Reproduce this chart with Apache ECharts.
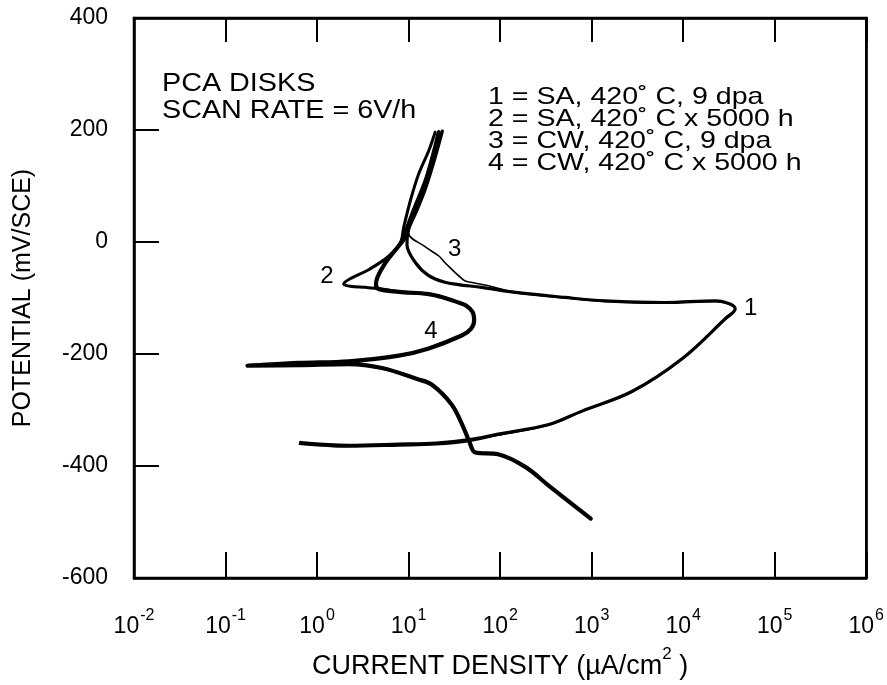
<!DOCTYPE html>
<html>
<head>
<meta charset="utf-8">
<script src="https://cdn.jsdelivr.net/npm/echarts@6/dist/echarts.min.js"></script>
<style>
html,body{margin:0;padding:0;background:#fff;}
#chart{width:887px;height:685px;}
</style>
</head>
<body>
<div id="chart"></div>
<script>
// ---- Data (x: current density µA/cm², y: potential mV/SCE) ----
const xTickValues = [0.01, 0.1, 1, 10, 100, 1000, 10000, 100000, 1000000];
const yTickValues = [-600, -400, -200, 0, 200, 400];

// Curve 1: SA, 420°C, 9 dpa
const curve1 = [
  [0.66,-358],[2.2,-363],[7.8,-361],[20,-359],[46,-353],[95,-343],[340,-326],[780,-302],
  [2750,-267],[9800,-208],[28800,-137],[37000,-119],[33000,-111],[22400,-105],[6300,-108],
  [1400,-105],[510,-99],[148,-90],[63,-81],[35,-76],[25,-72],[16.6,-60],[11.9,-37],
  [9.6,-5],[10,22],[11.9,51],[15.1,93],[19.5,151],[23.4,198]
];
// Curve 2: SA, 420°C x 5000 h
const curve2 = [
  [16.6,-93],[7.8,-89],[5.1,-84],[3.4,-81],[2.3,-79],[1.95,-75],[2.4,-64],[3.7,-49],
  [6.1,-25],[8.2,0],[8.8,25],[10.5,75],[12.9,122],[16.6,163],[19.5,196]
];
// Curve 3: CW, 420°C, 9 dpa
const curve3 = [
  [0.64,-361],[2.2,-366],[7.8,-364],[20,-362],[46,-356],[95,-345],[340,-327],[780,-303],
  [2750,-268],[9800,-209],[28800,-138],[37000,-120],[33000,-112],[22400,-106],[6300,-109],
  [1400,-106],[510,-100],[148,-91],[126,-88],[75,-78],[48,-72],[40,-68],[25,-37],
  [21.4,-25],[15,-8],[10,16],[11.9,51],[15.1,93],[19.5,151],[23.4,198]
];
// Curve 4: CW, 420°C x 5000 h
const curve4 = [
  [977,-494],[339,-435],[190,-402],[95,-379],[53.7,-376],[45.7,-355],[38.5,-326],[29.5,-290],
  [18,-255],[12.6,-245],[5.1,-225],[2.24,-218],[0.63,-220],[0.174,-221],[0.63,-216],[2.24,-213],
  [7.8,-203],[16.6,-190],[38,-167],[48,-155],[52,-140],[50,-125],[42,-113],[35,-108],[25,-100],
  [16.6,-93],[7.8,-89],[4.7,-84],[4.4,-75],[5.6,-37],[8.9,5],[9.2,16],[11.4,57],[15.8,116],[21.4,196]
];
// Curve number labels placed next to the curves
const curveLabelX = [54500, 1.28, 31.9, 17.5];
const curveLabelY = [-119, -61, -13, -160];
const curveLabelText = ['1', '2', '3', '4'];

const legendLines = [
  '1 = SA, 420˚ C, 9 dpa',
  '2 = SA, 420˚ C x 5000 h',
  '3 = CW, 420˚ C, 9 dpa',
  '4 = CW, 420˚ C x 5000 h'
];
const noteLines = ['PCA DISKS', 'SCAN RATE = 6V/h'];

const FONT = '"Liberation Sans", Arial, Helvetica, sans-serif';

const chart = echarts.init(document.getElementById('chart'), null, {renderer: 'canvas'});

function lineSeries(data, width) {
  return {
    type: 'line', data: data, smooth: 0.35, showSymbol: false, symbol: 'none',
    lineStyle: {color: '#000', width: width, cap: 'round', join: 'round'},
    animation: false, silent: true, z: 3
  };
}

const labelData = curveLabelX.map(function (x, i) { return [x, curveLabelY[i], i]; });

const option = {
  backgroundColor: '#fff',
  animation: false,
  grid: {left: 134, right: 19, top: 18, bottom: 103, show: true, borderColor: '#000', borderWidth: 2.5},
  xAxis: [{
    type: 'log', logBase: 10, min: xTickValues[0], max: xTickValues[xTickValues.length-1],
    position: 'bottom',
    axisLine: {show: true, onZero: false, lineStyle: {color: '#000', width: 2.5}},
    axisTick: {show: true, inside: true, length: 26, lineStyle: {color: '#000', width: 2}},
    splitLine: {show: false},
    axisLabel: {
      margin: 30,
      formatter: function (v) { return '{b|10}{s|' + Math.round(Math.log10(v)) + '}'; },
      rich: {
        b: {fontFamily: FONT, fontSize: 23, color: '#000', lineHeight: 30, verticalAlign: 'bottom'},
        s: {fontFamily: FONT, fontSize: 16, color: '#000', lineHeight: 30, verticalAlign: 'top', padding: [0,0,0,1]}
      }
    },
    name: '{t|CURRENT DENSITY (µA/cm}{s|2}{t| )}',
    nameLocation: 'middle', nameGap: 68,
    nameTextStyle: {
      rich: {
        t: {fontFamily: FONT, fontSize: 27, color: '#000', lineHeight: 34, verticalAlign: 'bottom'},
        s: {fontFamily: FONT, fontSize: 17, color: '#000', lineHeight: 34, verticalAlign: 'top'}
      }
    }
  }, {
    type: 'log', logBase: 10, min: xTickValues[0], max: xTickValues[xTickValues.length-1],
    position: 'top',
    axisLine: {show: true, onZero: false, lineStyle: {color: '#000', width: 2.5}},
    axisTick: {show: true, inside: true, length: 24, lineStyle: {color: '#000', width: 2}},
    axisLabel: {show: false}, splitLine: {show: false}
  }],
  yAxis: [{
    type: 'value', min: yTickValues[0], max: yTickValues[yTickValues.length-1], interval: 200,
    axisLine: {show: true, onZero: false, lineStyle: {color: '#000', width: 2.5}},
    axisTick: {show: true, inside: true, length: 25, lineStyle: {color: '#000', width: 2}},
    splitLine: {show: false},
    axisLabel: {fontFamily: FONT, fontSize: 23, color: '#000', margin: 26},
    name: 'POTENTIAL (mV/SCE)', nameLocation: 'middle', nameGap: 98,
    nameTextStyle: {fontFamily: FONT, fontSize: 25, color: '#000'}
  }, {
    type: 'value', min: yTickValues[0], max: yTickValues[yTickValues.length-1], interval: 200,
    position: 'right',
    axisLine: {show: true, onZero: false, lineStyle: {color: '#000', width: 2.5}},
    axisTick: {show: false}, axisLabel: {show: false}, splitLine: {show: false}
  }],
  series: [
    lineSeries(curve1, 3.2),
    lineSeries(curve2, 3),
    lineSeries(curve3, 1.6),
    lineSeries(curve4, 4.2),
    {
      type: 'custom', data: labelData, silent: true, animation: false, z: 5,
      renderItem: function (params, api) {
        const p = api.coord([api.value(0), api.value(1)]);
        return {
          type: 'text', x: p[0], y: p[1],
          style: {text: curveLabelText[api.value(2)], font: '24px ' + FONT, fill: '#000',
                  align: 'center', verticalAlign: 'middle'}
        };
      }
    }
  ],
  graphic: [
    {type: 'text', left: 162, top: 71, scaleX: 1.15, originX: 0,
     style: {text: noteLines.join('\n'), font: '25px ' + FONT, fill: '#000', lineHeight: 27}},
    {type: 'text', left: 488, top: 85, scaleX: 1.19, originX: 0,
     style: {text: legendLines.join('\n'), font: '24px ' + FONT, fill: '#000', lineHeight: 22}}
  ]
};
chart.setOption(option);
</script>
</body>
</html>
